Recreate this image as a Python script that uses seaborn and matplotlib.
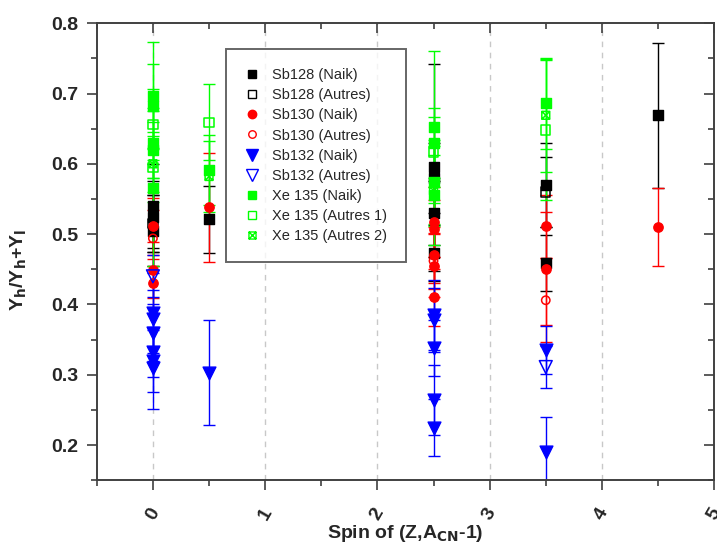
import numpy as np
import pandas as pd
import matplotlib
matplotlib.use("Agg")
import matplotlib.pyplot as plt
from matplotlib.path import Path
from matplotlib.lines import Line2D
import seaborn as sns

# Valeurs
sb128_naik_x = [0, 0, 0, 0.5, 2.5, 2.5, 2.5, 2.5, 3.5, 3.5, 4.5]
sb128_naik_y = [0.540, 0.525, 0.505, 0.521, 0.595, 0.580, 0.530, 0.473, 0.570, 0.459, 0.669]
sb128_naik_err = [0.060, 0.050, 0.050, 0.048, 0.147, 0.050, 0.045, 0.040, 0.060, 0.040, 0.103]

sb128_autres_x = [0, 3.5]
sb128_autres_y = [0.515, 0.560]
sb128_autres_err = [0.040, 0.050]

sb130_naik_x = [0, 0, 0, 0.5, 2.5, 2.5, 2.5, 2.5, 2.5, 3.5, 3.5, 4.5]
sb130_naik_y = [0.511, 0.449, 0.430, 0.538, 0.517, 0.508, 0.470, 0.455, 0.410, 0.511, 0.451, 0.510]
sb130_naik_err = [0.040, 0.040, 0.035, 0.078, 0.050, 0.040, 0.040, 0.045, 0.040, 0.045, 0.080, 0.055]

sb130_autres_x = [0, 2.5, 3.5]
sb130_autres_y = [0.494, 0.462, 0.406]
sb130_autres_err = [0.040, 0.040, 0.060]

sb132_naik_x = [0, 0, 0, 0, 0, 0, 0.5, 2.5, 2.5, 2.5, 2.5, 2.5, 3.5, 3.5]
sb132_naik_y = [0.388, 0.380, 0.360, 0.332, 0.320, 0.310, 0.303, 0.385, 0.378, 0.338, 0.264, 0.225, 0.335, 0.190]
sb132_naik_err = [0.057, 0.040, 0.040, 0.035, 0.044, 0.058, 0.075, 0.050, 0.045, 0.040, 0.050, 0.040, 0.034, 0.050]

sb132_autres_x = [0, 3.5]
sb132_autres_y = [0.440, 0.311]
sb132_autres_err = [0.030, 0.030]

xe135_naik_x = [0, 0, 0, 0, 0, 0.5, 2.5, 2.5, 2.5, 2.5, 3.5]
xe135_naik_y = [0.697, 0.682, 0.630, 0.620, 0.565, 0.591, 0.652, 0.630, 0.574, 0.555, 0.686]
xe135_naik_err = [0.076, 0.060, 0.050, 0.040, 0.110, 0.050, 0.108, 0.050, 0.060, 0.070, 0.065]

xe135_autres1_x = [0, 0, 0.5, 2.5, 3.5]
xe135_autres1_y = [0.656, 0.595, 0.659, 0.617, 0.648]
xe135_autres1_err = [0.050, 0.050, 0.054, 0.050, 0.100]

xe135_autres2_x = [0, 0.5, 2.5, 3.5]
xe135_autres2_y = [0.600, 0.582, 0.562, 0.669]
xe135_autres2_err = [0.040, 0.050, 0.050, 0.080]

# carré avec une croix dedans
boxx = Path([(-1, -1), (1, -1), (1, 1), (-1, 1), (-1, -1), (-1, -1), (1, 1), (-1, 1), (1, -1)],
            [Path.MOVETO, Path.LINETO, Path.LINETO, Path.LINETO, Path.CLOSEPOLY,
             Path.MOVETO, Path.LINETO, Path.MOVETO, Path.LINETO])

BLACK, RED, BLUE, GREEN = "#000000", "#ff0000", "#0000ff", "#00ff00"

series = [
    ("Sb128 (Naik)", sb128_naik_x, sb128_naik_y, sb128_naik_err, "s", BLACK, True, 45),
    ("Sb128 (Autres)", sb128_autres_x, sb128_autres_y, sb128_autres_err, "s", BLACK, False, 45),
    ("Sb130 (Naik)", sb130_naik_x, sb130_naik_y, sb130_naik_err, "o", RED, True, 45),
    ("Sb130 (Autres)", sb130_autres_x, sb130_autres_y, sb130_autres_err, "o", RED, False, 36),
    ("Sb132 (Naik)", sb132_naik_x, sb132_naik_y, sb132_naik_err, "v", BLUE, True, 85),
    ("Sb132 (Autres)", sb132_autres_x, sb132_autres_y, sb132_autres_err, "v", BLUE, False, 85),
    ("Xe 135 (Naik)", xe135_naik_x, xe135_naik_y, xe135_naik_err, "s", GREEN, True, 45),
    ("Xe 135 (Autres 1)", xe135_autres1_x, xe135_autres1_y, xe135_autres1_err, "s", GREEN, False, 45),
    ("Xe 135 (Autres 2)", xe135_autres2_x, xe135_autres2_y, xe135_autres2_err, boxx, GREEN, False, 32),
]

sns.set_style("ticks")
plt.rcParams['font.family'] = ['Liberation Sans', 'DejaVu Sans']

fig = plt.figure(figsize=(7.17, 5.52), dpi=100)
ax = fig.add_axes([0.135, 0.13, 0.861, 0.828])

handles = []
for label, xs, ys, errs, mk, col, filled, size in series:
    df = pd.DataFrame({"x": xs, "y": ys, "err": errs})
    ax.errorbar(df["x"], df["y"], yerr=df["err"], fmt="none", ecolor=col,
                elinewidth=1, capsize=4, capthick=1, zorder=2)
    sns.scatterplot(data=df, x="x", y="y", marker=mk, s=size, color=col,
                    edgecolor=col, linewidth=1 if filled else 1.1, ax=ax, zorder=3,
                    legend=False)
    if not filled:
        ax.collections[-1].set_facecolor("none")
    handles.append(Line2D([], [], linestyle="none", marker=mk, color=col,
                          markerfacecolor=col if filled else "none",
                          markeredgecolor=col, markersize=np.sqrt(size) * 0.9,
                          label=label))

ax.set_xlim(-0.5, 5)
ax.set_ylim(0.15, 0.8)
ax.set_xticks(np.arange(0, 6, 1))
ax.set_xticks(np.arange(-0.5, 5.01, 0.5), minor=True)
ax.set_yticks(np.arange(0.2, 0.81, 0.1))
ax.set_yticks(np.arange(0.15, 0.81, 0.05), minor=True)
ax.set_yticklabels([f"{v:.1f}" for v in np.arange(0.2, 0.81, 0.1)],
                   fontsize=14, fontweight="bold")
ax.set_xticklabels([str(v) for v in range(6)], fontsize=14, fontweight="bold",
                   rotation=60)
ax.tick_params(axis="x", pad=11)
ax.tick_params(axis="y", pad=6)

for sp in ax.spines.values():
    sp.set_color("#404040")
    sp.set_linewidth(1.4)
ax.tick_params(which="both", color="#404040", width=1.2)
ax.tick_params(which="major", length=7)
ax.tick_params(which="minor", length=4)
ax.tick_params(which="both", axis="x", direction="out", top=False)
ax.tick_params(which="both", axis="y", direction="out", right=False)
# ticks miroir vers l'intérieur en haut et à droite
ax2 = ax.secondary_xaxis("top")
ax2.set_xticks(np.arange(0, 6, 1))
ax2.set_xticks(np.arange(-0.5, 5.01, 0.5), minor=True)
ax2.tick_params(which="both", direction="in", labeltop=False, color="#404040", width=1.2)
ax2.tick_params(which="major", length=7)
ax2.tick_params(which="minor", length=4)
ax2.spines["top"].set_visible(False)
ay2 = ax.secondary_yaxis("right")
ay2.set_yticks(np.arange(0.2, 0.81, 0.1))
ay2.set_yticks(np.arange(0.15, 0.81, 0.05), minor=True)
ay2.tick_params(which="both", direction="in", labelright=False, color="#404040", width=1.2)
ay2.tick_params(which="major", length=7)
ay2.tick_params(which="minor", length=4)
ay2.spines["right"].set_visible(False)

for gx in range(0, 5):
    ax.axvline(gx, color="#c8c8c8", linestyle=(0, (4, 4)), linewidth=1, zorder=0)

ax.set_xlabel("Spin of (Z,A$_{\\mathbf{CN}}$-1)", fontsize=14, fontweight="bold", labelpad=0)
ax.set_ylabel("Y$_{\\mathbf{h}}$/Y$_{\\mathbf{h}}$+Y$_{\\mathbf{l}}$", fontsize=14,
              fontweight="bold")
ax.yaxis.set_label_coords(-0.11, 0.46)

leg = ax.legend(handles=handles, loc="upper left", bbox_to_anchor=(0.209, 0.943),
                fontsize=10.5, frameon=True, fancybox=False, borderpad=1.3,
                labelspacing=0.42, handlelength=1.0, handletextpad=0.9,
                borderaxespad=0)
leg.get_frame().set_edgecolor("#404040")
leg.get_frame().set_linewidth(1.4)

fig.savefig("out.png", dpi=100)
